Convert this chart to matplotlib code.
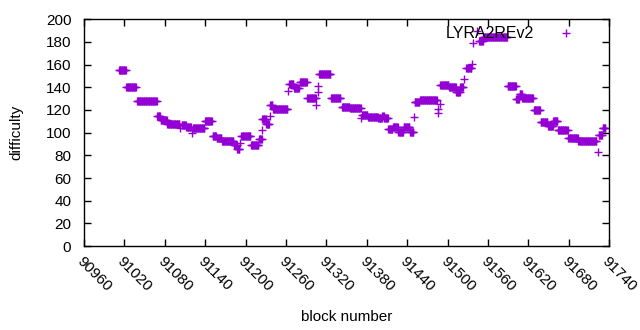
import numpy as np
import matplotlib
matplotlib.use("Agg")
import matplotlib.pyplot as plt

plt.rcParams['font.family'] = ['Liberation Sans', 'DejaVu Sans']

# runs of consecutive blocks with the same difficulty: first block, last block, difficulty
run_start = [91012, 91023, 91039, 91069, 91074, 91084, 91105, 91112, 91122, 91140,
             91151, 91157, 91165, 91183, 91188, 91194, 91208, 91220, 91225, 91231,
             91237, 91241, 91265, 91272, 91281, 91292, 91309, 91327, 91343, 91355,
             91373, 91382, 91397, 91403, 91406, 91412, 91419, 91427, 91435, 91444,
             91451, 91459, 91489, 91502, 91513, 91519, 91528, 91547, 91553, 91589,
             91602, 91607, 91611, 91628, 91638, 91649, 91657, 91664, 91679, 91694,
             91724, 91730]
run_end = [91022, 91037, 91068, 91073, 91083, 91102, 91111, 91119, 91139, 91150,
           91156, 91164, 91182, 91187, 91191, 91207, 91219, 91224, 91230, 91235,
           91240, 91262, 91271, 91279, 91291, 91304, 91326, 91341, 91354, 91371,
           91381, 91396, 91402, 91405, 91411, 91418, 91426, 91434, 91443, 91449,
           91458, 91484, 91501, 91512, 91518, 91523, 91535, 91552, 91588, 91601,
           91606, 91610, 91627, 91637, 91648, 91656, 91663, 91678, 91693, 91721,
           91729, 91734]
run_diff = [155, 140, 128, 115, 111, 108, 107, 105, 104, 110,
            97, 95, 93, 89, 86, 97, 89, 94, 112, 108,
            124, 121, 143, 139, 145, 131, 152, 131, 123, 122,
            116, 114, 113, 115, 113, 103, 105, 101, 105, 101,
            127, 129, 142, 140, 136, 140, 157, 181, 184, 141,
            130, 134, 131, 120, 109, 106, 110, 102, 95, 93,
            98, 104]

# single blocks off the runs
odd_block = [91103, 91120, 91192, 91224, 91236, 91263, 91305, 91307, 91308, 91372,
             91450, 91485, 91486, 91488, 91524, 91536, 91538, 91543, 91723]
odd_diff = [104, 100, 91, 102, 115, 137, 124, 136, 141, 113,
            114, 117, 121, 125, 147, 161, 179, 190, 83]

blocks = []
diffs = []
for s, e, d in zip(run_start, run_end, run_diff):
    for b in range(s, e + 1):
        blocks.append(b)
        diffs.append(d)
blocks += odd_block
diffs += odd_diff

fig = plt.figure(figsize=(6.4, 3.3), dpi=100)
ax = fig.add_axes([0.131, 0.2545, 0.821, 0.687])
ax.plot(blocks, diffs, '+', color='#9400D3', markersize=5.5, markeredgewidth=1.0,
        linestyle='none', label='LYRA2REv2')

ax.set_xlim(90960, 91740)
ax.set_ylim(0, 200)
ax.set_xticks(np.arange(90960, 91741, 60))
ax.set_yticks(np.arange(0, 201, 20))
ax.tick_params(direction='in', top=True, right=True, length=5, width=1,
               labelsize=11)
ax.tick_params(axis='y', pad=9)
ax.tick_params(axis='x', pad=6)
for lab in ax.get_xticklabels():
    lab.set_rotation(-45)
    lab.set_ha('left')
    lab.set_va('top')
    lab.set_rotation_mode('anchor')
for sp in ax.spines.values():
    sp.set_linewidth(1)

ax.set_xlabel('block number', fontsize=11, labelpad=11)
ax.set_ylabel('difficulty', fontsize=11, labelpad=16)
ax.legend(loc='upper right', bbox_to_anchor=(0.9695, 1.018), frameon=False,
          markerfirst=False, fontsize=11.5, handletextpad=1.0,
          borderaxespad=0.3, handlelength=2)

fig.savefig('out.png', dpi=100)
